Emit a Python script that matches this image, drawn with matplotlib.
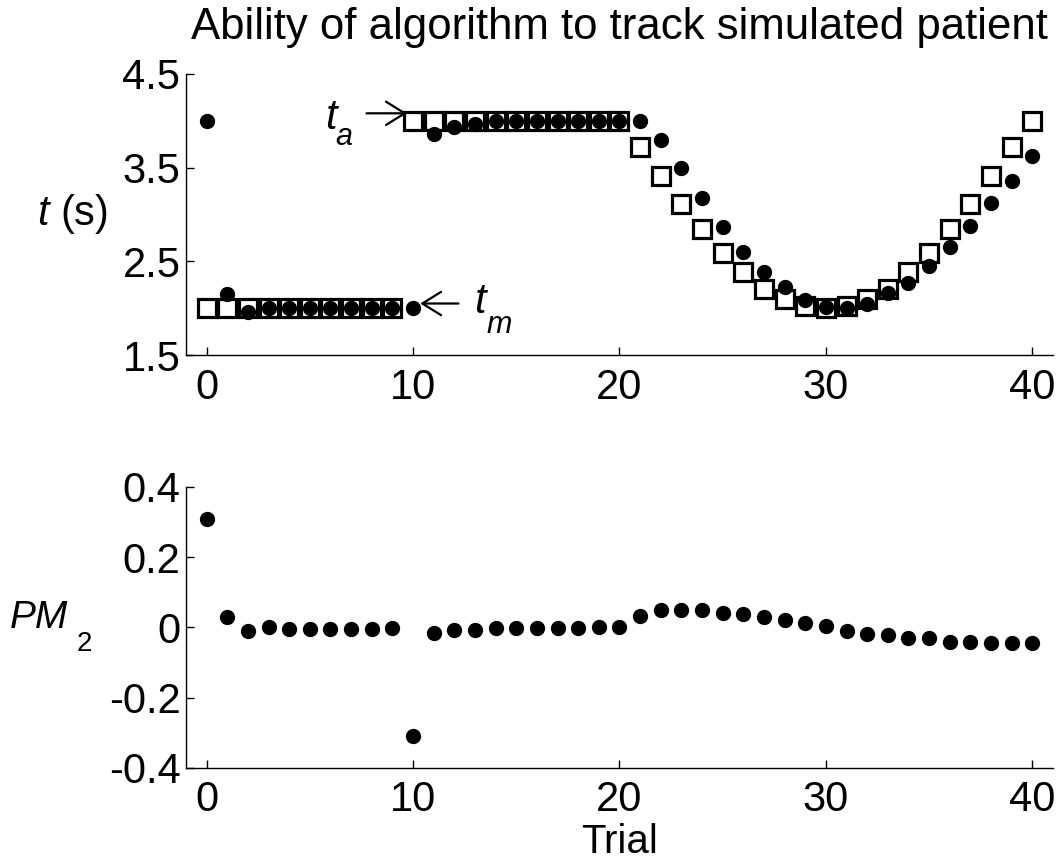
import numpy as np
import matplotlib
matplotlib.use("Agg")
import matplotlib.pyplot as plt

plt.rcParams['font.family'] = ['Liberation Sans', 'DejaVu Sans']
plt.rcParams['mathtext.fontset'] = 'custom'
plt.rcParams['mathtext.rm'] = 'Liberation Sans'
plt.rcParams['mathtext.it'] = 'Liberation Sans:italic'
plt.rcParams['axes.unicode_minus'] = False

# trial numbers
trial = list(range(41))

# t_a : simulated patient (open squares)
t_a = [2.0] * 10 + [4.0] * 11 + [
    3.72, 3.41, 3.11, 2.84, 2.59, 2.39, 2.21, 2.10, 2.02, 2.0,
    2.02, 2.10, 2.21, 2.39, 2.59, 2.84, 3.11, 3.41, 3.72, 4.0]

# t_m : algorithm estimate (filled circles)
t_m = [4.0, 2.15, 1.96, 2.0, 2.0, 2.0, 2.0, 2.0, 2.0, 2.0,
       2.0, 3.86, 3.93, 3.97, 4.0, 4.0, 4.0, 4.0, 4.0, 4.0,
       4.0, 4.0, 3.79, 3.50, 3.18, 2.87, 2.60, 2.39, 2.23, 2.09,
       2.01, 2.0, 2.05, 2.16, 2.27, 2.45, 2.65, 2.88, 3.12, 3.36,
       3.62]

# PM_2
pm2 = [0.31, 0.03, -0.01, 0.0, -0.004, -0.003, -0.003, -0.003, -0.003, -0.002,
       -0.31, -0.015, -0.006, -0.006, -0.002, -0.002, -0.002, -0.002, -0.002, 0.0,
       0.0, 0.034, 0.05, 0.05, 0.05, 0.04, 0.037, 0.029, 0.02, 0.012,
       0.003, -0.011, -0.018, -0.022, -0.03, -0.03, -0.04, -0.04, -0.043, -0.043,
       -0.043]

top_ticks = [1.5, 2.5, 3.5, 4.5]
bot_ticks = [-0.4, -0.2, 0, 0.2, 0.4]
bot_labels = ['-0.4', '-0.2', '0', '0.2', '0.4']
x_ticks = [0, 10, 20, 30, 40]

fs = 30
sub_fs = 22

fig = plt.figure(figsize=(10.59, 8.63), dpi=100)
ax1 = fig.add_axes([0.1756, 0.5886, 0.8187, 0.3257])
ax2 = fig.add_axes([0.1756, 0.1101, 0.8187, 0.3256])


def style(ax):
    for s in ['top', 'right']:
        ax.spines[s].set_visible(False)
    for s in ['left', 'bottom']:
        ax.spines[s].set_linewidth(1.0)
    ax.tick_params(direction='in', length=6, width=1, labelsize=fs)
    ax.tick_params(axis='x', pad=9)
    ax.tick_params(axis='y', pad=4)
    ax.set_xlim(-1, 41)
    ax.set_xticks(x_ticks)


def subscript(ax, main, sub, size, dx, dy, style='italic'):
    # put a lowered subscript after an existing text
    ax.annotate(sub, xy=(1, 0), xycoords=main, xytext=(dx, dy),
                textcoords='offset points', fontsize=size, style=style,
                ha='left', va='baseline')


# top panel
ax1.plot(trial, t_a, linestyle='none', marker='s', markersize=13.5,
         markerfacecolor='none', markeredgecolor='black', markeredgewidth=2.3, zorder=2)
ax1.plot(trial, t_m, linestyle='none', marker='o', markersize=10,
         color='black', zorder=3)
style(ax1)
ax1.set_ylim(1.5, 4.5)
ax1.set_yticks(top_ticks)
ax1.set_yticklabels([str(v) for v in top_ticks])
ax1.set_title('Ability of algorithm to track simulated patient', fontsize=31.5, pad=25)
ax1.set_ylabel(r'$t$ (s)', fontsize=fs, rotation=0, ha='center', va='center')
ax1.yaxis.set_label_coords(-0.131, 0.5)

arrow = dict(arrowstyle='->,head_length=0.45,head_width=0.28', lw=1.6,
             color='black', mutation_scale=30, shrinkA=0, shrinkB=0)
ax1.annotate('', xy=(9.7, 4.08), xytext=(7.75, 4.08), arrowprops=arrow)
ta = ax1.text(6.3, 3.91, 't', fontsize=fs, style='italic', ha='right', va='baseline')
subscript(ax1, ta, 'a', sub_fs, -1, -5)
ax1.annotate('', xy=(10.35, 2.05), xytext=(12.2, 2.05), arrowprops=arrow)
tm = ax1.text(12.95, 1.95, 't', fontsize=fs, style='italic', ha='left', va='baseline')
subscript(ax1, tm, 'm', sub_fs, 1, -8)

# bottom panel
ax2.plot(trial, pm2, linestyle='none', marker='o', markersize=10, color='black')
style(ax2)
ax2.set_ylim(-0.4, 0.4)
ax2.set_yticks(bot_ticks)
ax2.set_yticklabels(bot_labels)
ax2.set_xlabel('Trial', fontsize=29, labelpad=2)
pm = ax2.text(-0.136, 0.498, 'PM', transform=ax2.transAxes, fontsize=28,
              style='italic', ha='right', va='baseline')
subscript(ax2, pm, '2', 20, 6, -11, style='normal')

fig.savefig('out.png', dpi=100)
